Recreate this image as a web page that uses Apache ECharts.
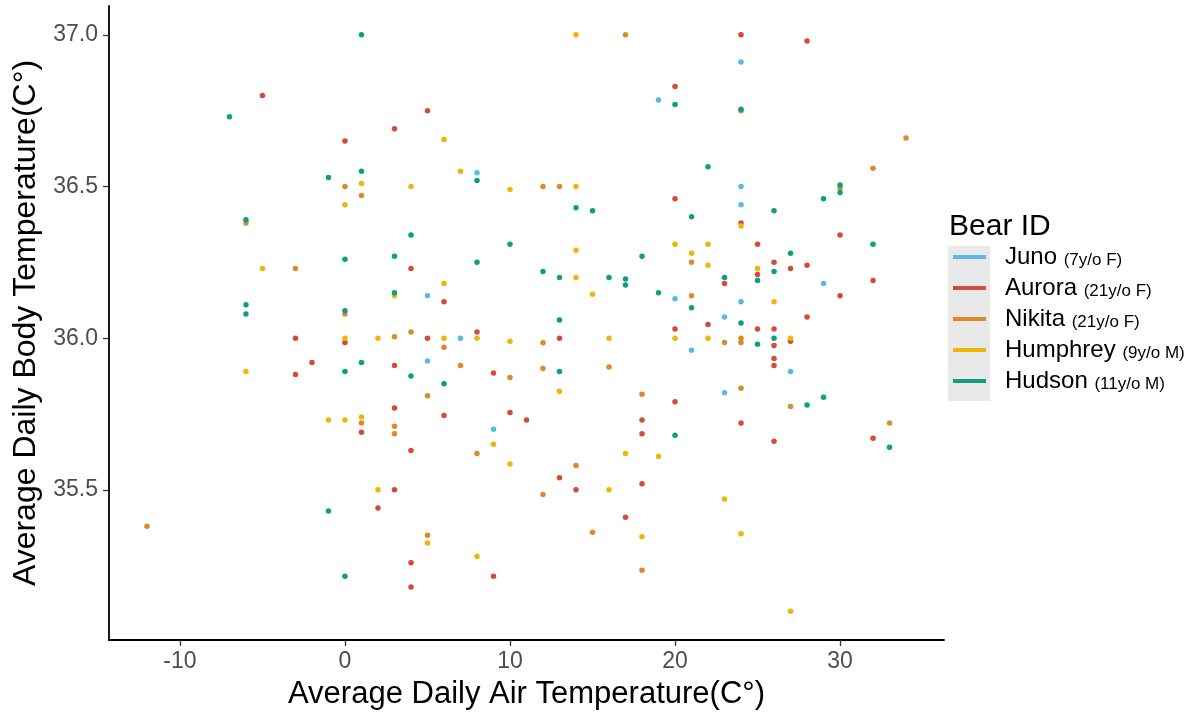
<!DOCTYPE html>
<html>
<head>
<meta charset="utf-8">
<script src="https://cdn.jsdelivr.net/npm/echarts@6/dist/echarts.min.js"></script>
<style>
  html, body { margin: 0; padding: 0; background: #fff; }
  #chart { width: 1204px; height: 716px; }
</style>
</head>
<body>
<div id="chart"></div>
<script>
// ===== data: [air temp, body temp] per bear =====
const juno = [
  [19, 36.785], [8, 36.545], [5, 36.14], [24, 36.91], [24, 36.5], [24, 36.44],
  [29, 36.18], [20, 36.13], [24, 36.12], [23, 36.07], [21, 35.96], [27, 35.89],
  [23, 35.82], [7, 36.0], [5, 35.925], [9, 35.70]
];
const aurora = [
  [-5, 36.80], [3, 36.69], [0, 36.65], [5, 36.75], [4, 36.23], [6, 36.12], [8, 36.02],
  [24, 37.0], [28, 36.98], [20, 36.83], [20, 36.46], [24, 36.38], [30, 36.34], [25, 36.31],
  [26, 36.25], [27, 36.23], [28, 36.24], [23, 36.18], [25, 36.21], [32, 36.19], [30, 36.14],
  [22, 36.045], [28, 36.07], [20, 36.03], [25, 36.03], [26, 36.03], [26, 35.976], [27, 35.99],
  [26, 35.933], [26, 35.91], [20, 35.79], [24, 35.72], [32, 35.67], [26, 35.66], [5, 36.0],
  [13, 36.0], [3, 35.91], [9, 35.885], [3, 35.77], [6, 35.745], [10, 35.755], [11, 35.73],
  [18, 35.73], [18, 35.685], [4, 35.63], [13, 35.54], [3, 35.5], [14, 35.5], [18, 35.52],
  [17, 35.41], [4, 35.26], [9, 35.215], [4, 35.18], [-3, 36.0], [0, 35.986], [-3, 35.88],
  [-2, 35.92], [1, 35.69], [2, 35.44]
];
const nikita = [
  [-6, 36.38], [0, 36.5], [1, 36.47], [-3, 36.23], [0, 36.08], [17, 37.0], [12, 36.5],
  [13, 36.5], [4, 36.02], [24, 36.75], [34, 36.66], [32, 36.56], [30, 36.495], [21, 36.25],
  [21, 36.14], [23, 35.986], [24, 36.0], [24, 35.986], [24, 35.835], [27, 35.775], [33, 35.72],
  [3, 36.005], [6, 35.97], [12, 35.985], [7, 35.91], [10, 35.87], [12, 35.90], [16, 35.905],
  [5, 35.81], [18, 35.815], [3, 35.71], [3, 35.685], [8, 35.62], [14, 35.58], [12, 35.485],
  [15, 35.36], [5, 35.35], [18, 35.235], [1, 35.72], [-12, 35.38]
];
const humphrey = [
  [1, 36.51], [0, 36.44], [-5, 36.23], [3, 36.14], [14, 37.0], [6, 36.655], [7, 36.55],
  [4, 36.5], [10, 36.49], [14, 36.5], [14, 36.29], [14, 36.20], [6, 36.18], [15, 36.145],
  [24, 36.37], [20, 36.31], [21, 36.28], [22, 36.31], [22, 36.24], [25, 36.23], [26, 36.12],
  [20, 36.0], [22, 36.0], [27, 36.0], [19, 35.61], [23, 35.47], [24, 35.355], [27, 35.10],
  [6, 36.0], [8, 36.0], [10, 35.99], [16, 36.0], [13, 35.825], [9, 35.65], [17, 35.62],
  [10, 35.585], [16, 35.5], [18, 35.345], [5, 35.325], [8, 35.28], [0, 36.0], [2, 36.0],
  [-6, 35.89], [-1, 35.73], [0, 35.73], [1, 35.74], [2, 35.5]
];
const hudson = [
  [1, 37.0], [-7, 36.73], [-1, 36.53], [1, 36.55], [-6, 36.39], [0, 36.26], [3, 36.27],
  [3, 36.15], [-6, 36.11], [-6, 36.08], [0, 36.09], [8, 36.52], [14, 36.43], [15, 36.42],
  [4, 36.34], [10, 36.31], [18, 36.27], [8, 36.25], [12, 36.22], [13, 36.20], [16, 36.20],
  [17, 36.195], [17, 36.175], [19, 36.15], [13, 36.06], [20, 36.77], [24, 36.755], [22, 36.565],
  [30, 36.505], [30, 36.48], [29, 36.46], [21, 36.40], [26, 36.42], [32, 36.31], [27, 36.28],
  [26, 36.22], [23, 36.20], [25, 36.19], [21, 36.10], [24, 36.05], [25, 35.98], [26, 36.0],
  [28, 35.78], [29, 35.805], [33, 35.64], [20, 35.68], [4, 35.875], [6, 35.85], [13, 35.89],
  [0, 35.89], [1, 35.92], [-1, 35.43], [0, 35.215]
];

const bearNames = ['Juno', 'Aurora', 'Nikita', 'Humphrey', 'Hudson'];
const bearInfo = ['(7y/o F)', '(21y/o F)', '(21y/o F)', '(9y/o M)', '(11y/o M)'];
const bearData = [juno, aurora, nikita, humphrey, hudson];
const bearColors = ['#5bb8e2', '#d44b3a', '#e0892c', '#f2b505', '#0e9e80'];

const xTicks = [-10, 0, 10, 20, 30];
const yTicks = [35.5, 36.0, 36.5, 37.0];

const FONT = '"Liberation Sans", Arial, sans-serif';

const chart = echarts.init(document.getElementById('chart'));

chart.setOption({
  backgroundColor: '#fff',
  animation: false,
  textStyle: { fontFamily: FONT },
  color: bearColors,
  title: {
    text: 'Bear ID',
    left: 949,
    top: 212,
    padding: 0,
    textStyle: { fontFamily: FONT, fontSize: 30, fontWeight: 'normal', color: '#000' }
  },
  // grey key background like ggplot legend keys
  graphic: [{
    type: 'rect',
    shape: { x: 948, y: 246, width: 42, height: 155 },
    style: { fill: '#e9e9e9' },
    z: 0
  }],
  legend: {
    orient: 'vertical',
    left: 953,
    top: 245,
    padding: 0,
    itemWidth: 33,
    itemHeight: 4,
    itemGap: 7,
    icon: 'rect',
    selectedMode: false,
    data: bearNames,
    formatter: name => {
      const i = bearNames.indexOf(name);
      return '{n|' + name + '}  {s|' + bearInfo[i] + '}';
    },
    textStyle: {
      padding: [0, 0, 0, 14],
      rich: {
        n: { fontFamily: FONT, fontSize: 24, color: '#000', lineHeight: 24, verticalAlign: 'bottom' },
        s: { fontFamily: FONT, fontSize: 17, color: '#000', lineHeight: 24, verticalAlign: 'bottom' }
      }
    }
  },
  grid: { left: 109, right: 260, top: 6, bottom: 76, containLabel: false },
  xAxis: {
    type: 'value',
    min: -14.3,
    max: 36.3,
    name: 'Average Daily Air Temperature(C°)',
    nameLocation: 'middle',
    nameGap: 39,
    nameTextStyle: { fontFamily: FONT, fontSize: 31, color: '#000' },
    axisLine: { show: true, onZero: false, lineStyle: { color: '#000', width: 1.8 } },
    axisTick: { show: true, length: 6, customValues: xTicks, lineStyle: { color: '#333', width: 1.3 } },
    axisLabel: { customValues: xTicks, fontSize: 23, color: '#4d4d4d', margin: 10 },
    splitLine: { show: false }
  },
  yAxis: {
    type: 'value',
    min: 35.005,
    max: 37.095,
    name: 'Average Daily Body Temperature(C°)',
    nameLocation: 'middle',
    nameGap: 63,
    nameTextStyle: { fontFamily: FONT, fontSize: 32, color: '#000' },
    axisLine: { show: true, onZero: false, lineStyle: { color: '#000', width: 1.8 } },
    axisTick: { show: true, length: 6, customValues: yTicks, lineStyle: { color: '#333', width: 1.3 } },
    axisLabel: { customValues: yTicks, fontSize: 23, color: '#4d4d4d', margin: 11, formatter: v => v.toFixed(1) },
    splitLine: { show: false }
  },
  series: bearNames.map((name, i) => ({
    name: name,
    type: 'scatter',
    data: bearData[i],
    symbol: 'circle',
    symbolSize: 5.5,
    itemStyle: { color: bearColors[i], opacity: 1 }
  }))
});
</script>
</body>
</html>
